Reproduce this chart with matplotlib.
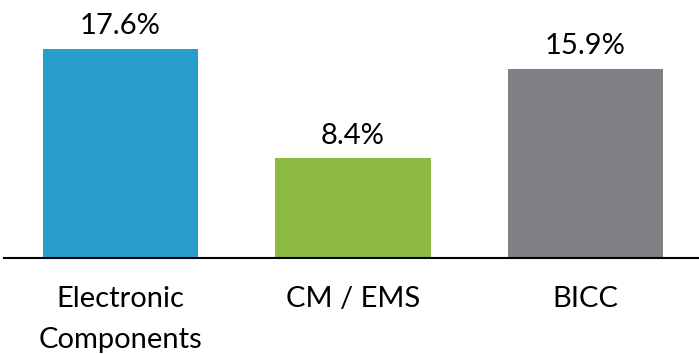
import matplotlib
matplotlib.use("Agg")
import matplotlib.pyplot as plt

categories = ["Electronic\nComponents", "CM / EMS", "BICC"]
values = [17.6, 8.4, 15.9]
value_labels = ["17.6%", "8.4%", "15.9%"]
colors = ["#289fcb", "#8dba43", "#7e8083"]

plt.rcParams['font.family'] = ['Lato', 'DejaVu Sans']

W, H = 699, 354
fig = plt.figure(figsize=(W/100, H/100), dpi=100)
ax = fig.add_axes([4/W, 96/H, 695/W, 258/H])

x = list(range(len(categories)))
ax.bar(x, values, width=0.667, color=colors, zorder=2)
ax.set_xlim(-0.501, 2.488)
ax.set_ylim(0, 21.726)

for xi, v, lab in zip(x, values, value_labels):
    ax.annotate(lab, (xi, v), xytext=(0, 7), textcoords="offset points",
                ha="center", va="bottom", fontsize=21, color="black")

ax.set_xticks(x)
ax.set_xticklabels(categories, fontsize=21, linespacing=1.7)
ax.tick_params(axis='x', length=0, pad=20.5)
ax.set_yticks([])
for s in ["top", "left", "right"]:
    ax.spines[s].set_visible(False)
ax.spines["bottom"].set_linewidth(1.5)
ax.spines["bottom"].set_color("black")

fig.savefig("out.png", dpi=100)
